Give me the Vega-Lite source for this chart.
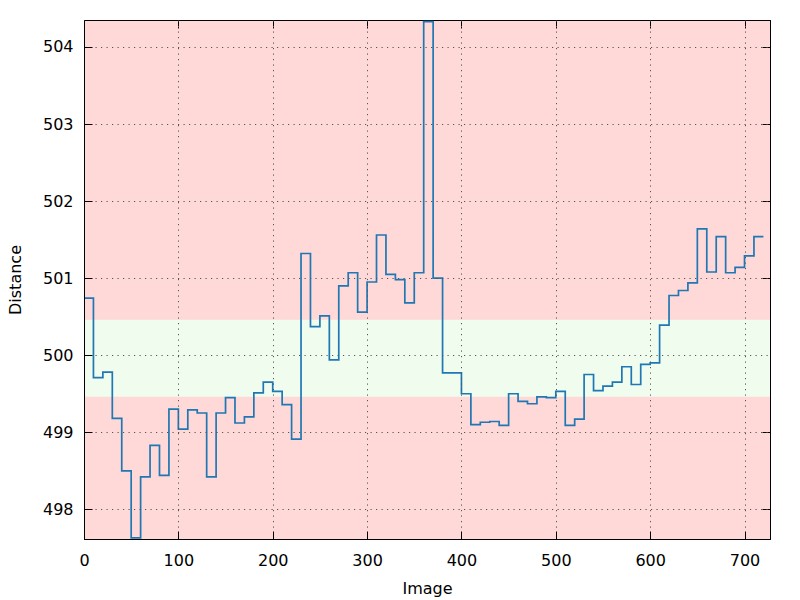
{
  "$schema": "https://vega.github.io/schema/vega-lite/v6.json",
  "autosize": "none",
  "width": 686,
  "height": 519,
  "padding": {"left": 84, "top": 20, "right": 30, "bottom": 61},
  "background": "white",
  "config": {
    "font": "DejaVu Sans",
    "view": {"fill": "#ffd8d8", "stroke": "black", "strokeWidth": 1},
    "axis": {
      "domainColor": "black",
      "tickColor": "black",
      "labelColor": "black",
      "titleColor": "black",
      "labelFont": "DejaVu Sans",
      "titleFont": "DejaVu Sans",
      "labelFontSize": 16,
      "titleFontSize": 16,
      "titleFontWeight": "normal",
      "tickSize": -8,
      "gridColor": "#555555",
      "gridDash": [1.2, 4.3],
      "gridOpacity": 1,
      "gridWidth": 1
    }
  },
  "resolve": {"axis": {"x": "independent", "y": "independent"}},
  "layer": [
    {
      "data": {"values": [{"lo": 499.46, "hi": 500.46, "x0": 0, "x1": 727}]},
      "mark": {"type": "rect", "fill": "#effcee"},
      "encoding": {
        "x": {"field": "x0", "type": "quantitative", "scale": {"domain": [0, 727], "nice": false, "zero": false},
              "axis": {"orient": "top", "labels": false, "title": null, "grid": false, "values": [0,100,200,300,400,500,600,700]}},
        "x2": {"field": "x1"},
        "y": {"field": "lo", "type": "quantitative", "scale": {"domain": [497.615, 504.35], "nice": false, "zero": false},
              "axis": {"orient": "right", "labels": false, "title": null, "grid": false, "values": [498,499,500,501,502,503,504]}},
        "y2": {"field": "hi"}
      }
    },
    {
      "data": {"values": [
        {"image": 0, "distance": 500.74},
        {"image": 10, "distance": 499.71},
        {"image": 20, "distance": 499.78},
        {"image": 30, "distance": 499.18},
        {"image": 40, "distance": 498.50},
        {"image": 50, "distance": 497.63},
        {"image": 60, "distance": 498.42},
        {"image": 70, "distance": 498.83},
        {"image": 80, "distance": 498.44},
        {"image": 90, "distance": 499.30},
        {"image": 100, "distance": 499.04},
        {"image": 110, "distance": 499.29},
        {"image": 120, "distance": 499.25},
        {"image": 130, "distance": 498.42},
        {"image": 140, "distance": 499.25},
        {"image": 150, "distance": 499.45},
        {"image": 160, "distance": 499.12},
        {"image": 170, "distance": 499.20},
        {"image": 180, "distance": 499.51},
        {"image": 190, "distance": 499.65},
        {"image": 200, "distance": 499.53},
        {"image": 210, "distance": 499.36},
        {"image": 220, "distance": 498.91},
        {"image": 230, "distance": 501.32},
        {"image": 240, "distance": 500.37},
        {"image": 250, "distance": 500.51},
        {"image": 260, "distance": 499.94},
        {"image": 270, "distance": 500.90},
        {"image": 280, "distance": 501.07},
        {"image": 290, "distance": 500.56},
        {"image": 300, "distance": 500.95},
        {"image": 310, "distance": 501.56},
        {"image": 320, "distance": 501.05},
        {"image": 330, "distance": 500.98},
        {"image": 340, "distance": 500.68},
        {"image": 350, "distance": 501.07},
        {"image": 360, "distance": 504.33},
        {"image": 370, "distance": 501.00},
        {"image": 380, "distance": 499.77},
        {"image": 390, "distance": 499.77},
        {"image": 400, "distance": 499.50},
        {"image": 410, "distance": 499.10},
        {"image": 420, "distance": 499.13},
        {"image": 430, "distance": 499.14},
        {"image": 440, "distance": 499.09},
        {"image": 450, "distance": 499.50},
        {"image": 460, "distance": 499.40},
        {"image": 470, "distance": 499.37},
        {"image": 480, "distance": 499.46},
        {"image": 490, "distance": 499.45},
        {"image": 500, "distance": 499.53},
        {"image": 510, "distance": 499.09},
        {"image": 520, "distance": 499.17},
        {"image": 530, "distance": 499.75},
        {"image": 540, "distance": 499.54},
        {"image": 550, "distance": 499.60},
        {"image": 560, "distance": 499.65},
        {"image": 570, "distance": 499.85},
        {"image": 580, "distance": 499.62},
        {"image": 590, "distance": 499.88},
        {"image": 600, "distance": 499.90},
        {"image": 610, "distance": 500.39},
        {"image": 620, "distance": 500.775},
        {"image": 630, "distance": 500.84},
        {"image": 640, "distance": 500.94},
        {"image": 650, "distance": 501.64},
        {"image": 660, "distance": 501.08},
        {"image": 670, "distance": 501.54},
        {"image": 680, "distance": 501.07},
        {"image": 690, "distance": 501.14},
        {"image": 700, "distance": 501.29},
        {"image": 710, "distance": 501.54},
        {"image": 720, "distance": 501.54}
      ]},
      "mark": {"type": "line", "interpolate": "step-after", "color": "#1f77b4", "strokeWidth": 1.7},
      "encoding": {
        "x": {"field": "image", "type": "quantitative", "scale": {"domain": [0, 727], "nice": false, "zero": false},
              "axis": {"orient": "bottom", "title": "Image", "grid": true, "zindex": 1, "values": [0,100,200,300,400,500,600,700], "labelPadding": 21, "labelFlush": false, "titleX": 343, "titleY": 54.5, "titleBaseline": "alphabetic", "titleAlign": "center"}},
        "y": {"field": "distance", "type": "quantitative", "scale": {"domain": [497.615, 504.35], "nice": false, "zero": false},
              "axis": {"orient": "left", "title": "Distance", "grid": true, "zindex": 1, "values": [498,499,500,501,502,503,504], "labelPadding": 19, "titleX": -63.5, "titleY": 259.5, "titleAngle": -90, "titleBaseline": "alphabetic", "titleAlign": "center"}}
      }
    }
  ]
}
